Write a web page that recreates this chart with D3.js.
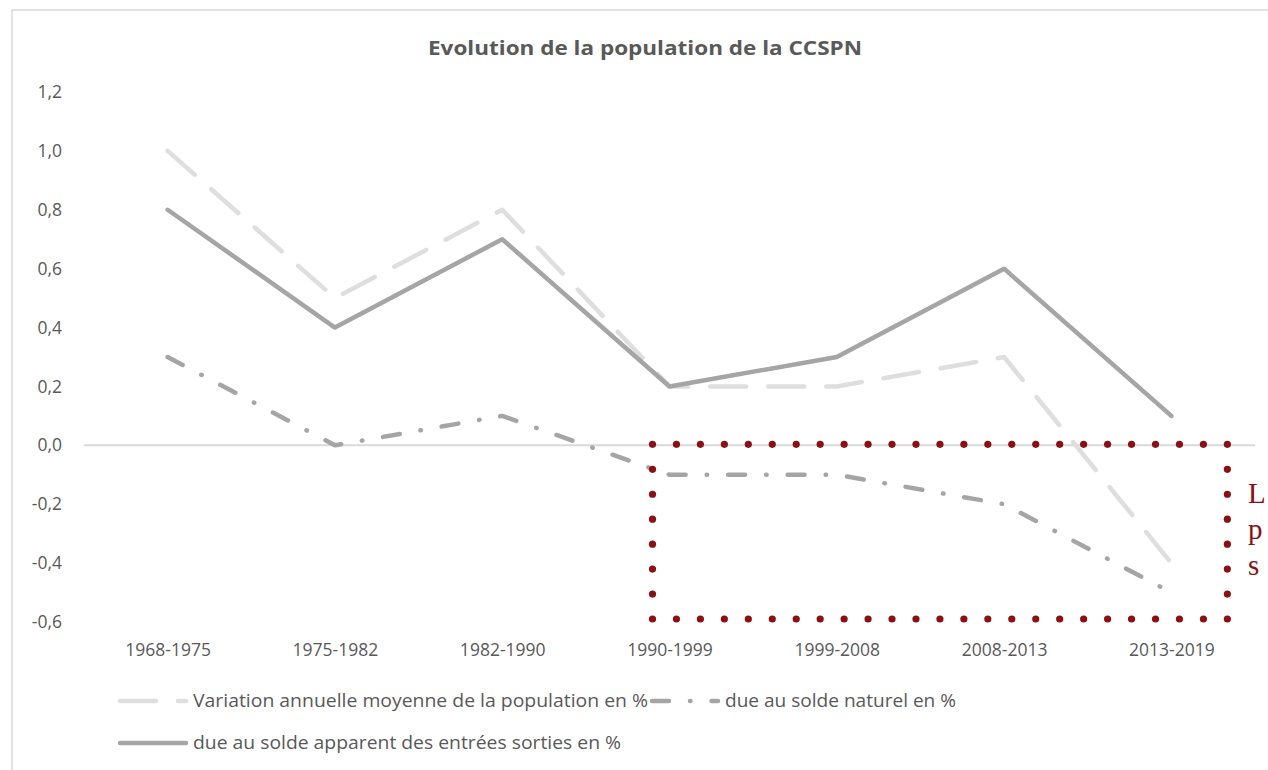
<!DOCTYPE html>
<html>
<head>
<meta charset="utf-8">
<script src="https://cdn.jsdelivr.net/npm/d3@7"></script>
<style>
  html, body { margin: 0; padding: 0; background: #ffffff; }
  svg { display: block; }
</style>
</head>
<body>
<svg id="chart" width="1268" height="770"></svg>
<script>
// Periods on the horizontal axis
const periods = ["1968-1975", "1975-1982", "1982-1990", "1990-1999", "1999-2008", "2008-2013", "2013-2019"];

// Annual rates of change, in %
const variationTotale = [1.0, 0.5, 0.8, 0.2, 0.2, 0.3, -0.4];
const soldeNaturel    = [0.3, 0.0, 0.1, -0.1, -0.1, -0.2, -0.5];
const soldeApparent   = [0.8, 0.4, 0.7, 0.2, 0.3, 0.6, 0.1];

// Vertical axis ticks
const yTicks = [-0.6, -0.4, -0.2, 0.0, 0.2, 0.4, 0.6, 0.8, 1.0, 1.2];

const seriesNames = [
  "Variation annuelle moyenne de la population en %",
  "due au solde naturel en %",
  "due au solde apparent des entrées sorties en %"
];

const titleText = "Evolution de la population de la CCSPN";
const noteLines = ["L", "p", "s"];

const series = [
  { name: seriesNames[0], values: variationTotale, color: "#dedede", width: 4.5, dash: "36,22", cap: "round" },
  { name: seriesNames[1], values: soldeNaturel,    color: "#a5a5a5", width: 4.5, dash: "17,21,0.5,21", cap: "round" },
  { name: seriesNames[2], values: soldeApparent,   color: "#a5a5a5", width: 4.5, dash: null, cap: "round" }
];

const fr = d3.formatLocale({ decimal: ",", thousands: " ", grouping: [3], currency: ["", " €"], minus: "-" });
const fmt = fr.format(".1f");

const sans = "'Open Sans', 'Noto Sans', sans-serif";
const serif = "'Liberation Serif', 'DejaVu Serif', serif";

const svg = d3.select("#chart");
const textColor = "#595959";

// chart frame
svg.append("rect")
  .attr("x", 12).attr("y", 10)
  .attr("width", 1300).attr("height", 800)
  .attr("fill", "none")
  .attr("stroke", "#d9d9d9")
  .attr("stroke-width", 1.5);

const x = d3.scalePoint().domain(periods).range([84, 1255]).padding(0.5);
const y = d3.scaleLinear().domain([-0.6, 1.2]).range([622, 92]);

// title
svg.append("text")
  .attr("x", 645).attr("y", 55)
  .attr("text-anchor", "middle")
  .style("font-family", sans)
  .attr("font-size", 19)
  .attr("font-weight", 700)
  .attr("fill", textColor)
  .attr("textLength", 434)
  .attr("lengthAdjust", "spacingAndGlyphs")
  .text(titleText);

// y axis labels (no axis line)
const yAxis = d3.axisLeft(y).tickValues(yTicks).tickFormat(fmt).tickSize(0).tickPadding(0);
const gy = svg.append("g").attr("transform", "translate(62,0)").call(yAxis);
gy.select(".domain").remove();
gy.selectAll("text")
  .attr("font-size", 17.5)
  .attr("fill", textColor)
  .style("font-family", sans);

// zero line
svg.append("line")
  .attr("x1", 84).attr("x2", 1255)
  .attr("y1", y(0)).attr("y2", y(0))
  .attr("stroke", "#d9d9d9")
  .attr("stroke-width", 2);

// x axis labels
const xAxis = d3.axisBottom(x).tickSize(0).tickPadding(0);
const gx = svg.append("g").attr("transform", "translate(0,640)").call(xAxis);
gx.select(".domain").remove();
gx.selectAll("text")
  .attr("font-size", 17.5)
  .attr("fill", textColor)
  .attr("dy", "0.9em")
  .style("font-family", sans);

// series lines
const line = d3.line()
  .x((d, i) => x(periods[i]))
  .y(d => y(d));

series.forEach(s => {
  svg.append("path")
    .datum(s.values)
    .attr("d", line)
    .attr("fill", "none")
    .attr("stroke", s.color)
    .attr("stroke-width", s.width)
    .attr("stroke-linejoin", "round")
    .attr("stroke-linecap", s.cap)
    .attr("stroke-dasharray", s.dash);
});

// legend
const legend = svg.append("g");
const legendRows = [
  { items: [0, 1], y: 701 },
  { items: [2], y: 743 }
];
const legendTextWidths = [455, 231, 428];
legendRows.forEach(row => {
  let cx = 120;
  row.items.forEach(idx => {
    const s = series[idx];
    legend.append("line")
      .attr("x1", cx).attr("x2", cx + 66)
      .attr("y1", row.y).attr("y2", row.y)
      .attr("stroke", s.color)
      .attr("stroke-width", s.width)
      .attr("stroke-linecap", s.cap)
      .attr("stroke-dasharray", s.dash);
    legend.append("text")
      .attr("x", cx + 73).attr("y", row.y + 6)
      .style("font-family", sans)
      .attr("font-size", 17.5)
      .attr("fill", textColor)
      .attr("textLength", legendTextWidths[idx])
      .attr("lengthAdjust", "spacingAndGlyphs")
      .text(s.name);
    cx = cx + 73 + legendTextWidths[idx] + 4;
  });
});

// highlighted zone: dotted frame around the negative natural balance
const note = svg.append("g");
const boxLeft = x("1990-1999") - 17;
const boxRight = x("2013-2019") + 56;
const boxTop = y(0) - 1;
const boxBottom = y(-0.6) - 3;
const red = "#8b1013";
const nx = 24, ny = 7;
const dots = [];
d3.range(nx + 1).forEach(i => {
  const px = boxLeft + (boxRight - boxLeft) * i / nx;
  dots.push([px, boxTop], [px, boxBottom]);
});
d3.range(1, ny).forEach(j => {
  const py = boxTop + (boxBottom - boxTop) * j / ny;
  dots.push([boxLeft, py], [boxRight, py]);
});
note.selectAll("circle").data(dots).join("circle")
  .attr("cx", d => d[0]).attr("cy", d => d[1])
  .attr("r", 3.6)
  .attr("fill", red);

note.selectAll("text").data(noteLines).join("text")
  .attr("x", 1248)
  .attr("y", (d, i) => 503 + i * 36)
  .style("font-family", serif)
  .attr("font-size", 29)
  .attr("fill", red)
  .text(d => d);
</script>
</body>
</html>
